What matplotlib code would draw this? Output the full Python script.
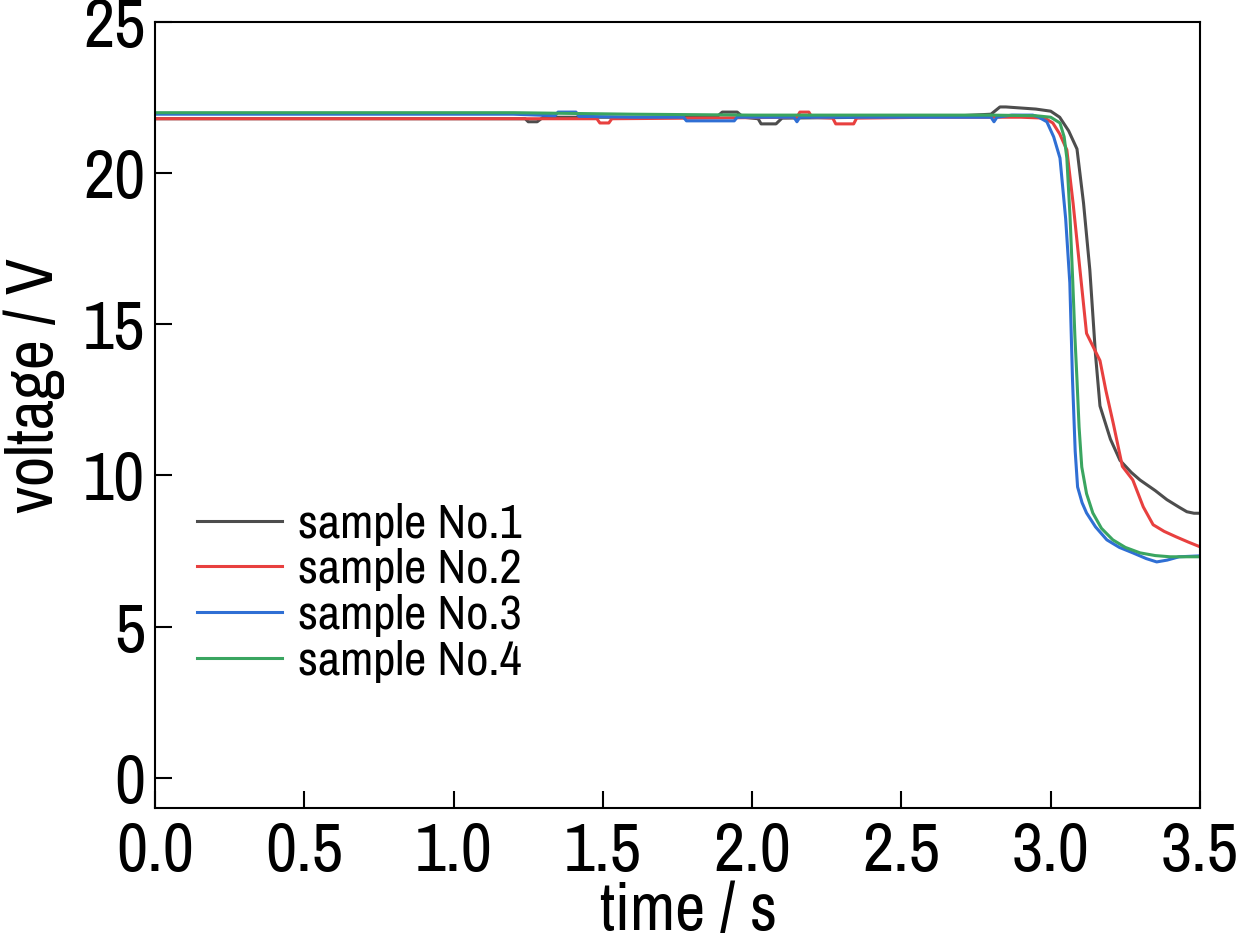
import matplotlib
matplotlib.use("Agg")
import matplotlib.pyplot as plt
from matplotlib import font_manager
from matplotlib.font_manager import FontProperties
from matplotlib.textpath import TextPath

# data (time / s, voltage / V)
t1 = [0.0, 1.20, 1.24, 1.25, 1.28, 1.30, 1.60, 1.88, 1.90, 1.95, 1.97, 2.02, 2.03, 2.08, 2.10,
      2.40, 2.70, 2.80, 2.83, 2.85, 2.95, 3.00, 3.03, 3.06, 3.088, 3.11, 3.131, 3.15, 3.165,
      3.20, 3.232, 3.27, 3.299, 3.35, 3.389, 3.43, 3.456, 3.48, 3.50]
v1 = [21.80, 21.80, 21.80, 21.70, 21.70, 21.85, 21.85, 21.85, 22.02, 22.02, 21.85, 21.80, 21.63,
      21.63, 21.82, 21.85, 21.90, 21.95, 22.19, 22.19, 22.12, 22.05, 21.85, 21.40, 20.80, 19.0,
      16.80, 14.00, 12.30, 11.20, 10.50, 10.10, 9.85, 9.50, 9.20, 8.95, 8.80, 8.75, 8.75]

t2 = [0.0, 1.20, 1.48, 1.49, 1.52, 1.53, 1.80, 2.15, 2.16, 2.19, 2.20, 2.27, 2.28, 2.34, 2.35,
      2.60, 2.90, 2.98, 3.007, 3.03, 3.054, 3.075, 3.098, 3.12, 3.14, 3.165, 3.185, 3.21, 3.24,
      3.275, 3.31, 3.343, 3.38, 3.42, 3.46, 3.50]
v2 = [21.80, 21.80, 21.80, 21.66, 21.66, 21.80, 21.82, 21.85, 22.02, 22.02, 21.85, 21.82, 21.63,
      21.63, 21.82, 21.85, 21.85, 21.82, 21.66, 21.30, 20.77, 19.00, 16.80, 14.70, 14.30, 13.80,
      12.80, 11.70, 10.30, 9.85, 8.96, 8.37, 8.15, 7.97, 7.80, 7.64]

t3 = [0.0, 1.20, 1.34, 1.35, 1.41, 1.42, 1.60, 1.77, 1.78, 1.94, 1.95, 2.14, 2.15, 2.16, 2.40,
      2.80, 2.81, 2.82, 2.87, 2.94, 2.96, 2.987, 3.01, 3.031, 3.05, 3.064, 3.073, 3.082, 3.09,
      3.105, 3.12, 3.15, 3.188, 3.23, 3.275, 3.32, 3.355, 3.39, 3.43, 3.50]
v3 = [21.95, 21.95, 21.90, 22.02, 22.02, 21.88, 21.85, 21.85, 21.73, 21.73, 21.85, 21.85, 21.70,
      21.85, 21.85, 21.85, 21.70, 21.85, 21.92, 21.92, 21.85, 21.70, 21.20, 20.50, 18.50, 16.37,
      13.16, 10.80, 9.62, 9.10, 8.76, 8.30, 7.87, 7.62, 7.44, 7.25, 7.14, 7.20, 7.31, 7.34]

t4 = [0.0, 1.20, 1.60, 2.00, 2.40, 2.80, 2.95, 3.00, 3.031, 3.045, 3.054, 3.065, 3.074, 3.081,
      3.088, 3.095, 3.104, 3.12, 3.141, 3.17, 3.208, 3.25, 3.299, 3.35, 3.40, 3.50]
v4 = [22.00, 22.00, 21.95, 21.92, 21.92, 21.92, 21.90, 21.85, 21.66, 21.20, 20.50, 18.50, 16.37,
      14.60, 13.16, 11.60, 10.28, 9.40, 8.76, 8.25, 7.87, 7.62, 7.44, 7.35, 7.31, 7.31]

labels = ['sample No.1', 'sample No.2', 'sample No.3', 'sample No.4']
colors = ['#4d4d4d', '#e8403f', '#2f6fd4', '#3aa560']
xticks = [0.0, 0.5, 1.0, 1.5, 2.0, 2.5, 3.0, 3.5]
yticks = [0, 5, 10, 15, 20, 25]

# a narrow sans like the original, if there is one
names = set(f.name for f in font_manager.fontManager.ttflist)
prefs = ['Liberation Sans Narrow', 'Arial Narrow', 'Archivo Narrow', 'PT Sans Narrow',
         'Roboto Condensed', 'Pragati Narrow', 'IBM Plex Sans Condensed', 'Fira Sans Condensed',
         'Sofia Sans Semi Condensed', 'Liberation Sans']
fam = next((p for p in prefs if p in names), 'DejaVu Sans')
plt.rcParams['font.family'] = [fam, 'DejaVu Sans']

DPI = 100
fp = FontProperties(family=fam)

def fsize(s, w_px, ch, h_px):
    # font size (pt) from target width of s and target height of glyph ch
    w = TextPath((0, 0), s, size=100, prop=fp).get_extents().width
    h = TextPath((0, 0), ch, size=100, prop=fp).get_extents().height
    fw = w_px / (w / 100.0) * 72.0 / DPI
    fh = h_px / (h / 100.0) * 72.0 / DPI
    return fw ** 0.65 * fh ** 0.35

tick_fs = fsize('0.0', 72, '0', 49)
lab_fs = fsize('voltage / V', 258, 'V', 44)
leg_fs = fsize('sample No.1', 227, 'N', 32)
leg_em = leg_fs * DPI / 72.0

fig = plt.figure(figsize=(12.41, 9.43), dpi=DPI)
ax = fig.add_axes([155 / 1241, 1 - 808 / 943, 1045 / 1241, 786 / 943])

for t, v, c, l in zip([t1, t2, t3, t4], [v1, v2, v3, v4], colors, labels):
    ax.plot(t, v, color=c, lw=2.2, label=l)

ax.set_xlim(0, 3.5)
ax.set_ylim(-1, 25)
ax.set_xticks(xticks)
ax.set_xticklabels(['%.1f' % x for x in xticks])
ax.set_yticks(yticks)
ax.tick_params(direction='in', length=12, width=1.5, labelsize=tick_fs)
ax.tick_params(axis='x', pad=9)
ax.tick_params(axis='y', pad=7)
for s in ax.spines.values():
    s.set_linewidth(1.5)

ax.set_xlabel('time / s', fontsize=lab_fs)
ax.set_ylabel('voltage / V', fontsize=lab_fs)
ax.xaxis.set_label_coords(0.511, -0.094)
ax.yaxis.set_label_coords(-0.086, 0.538)

ax.legend(loc='upper left', bbox_to_anchor=(42 / 1045, (808 - 527 + 0.5 * leg_em) / 786),
          frameon=False, fontsize=leg_fs, borderpad=0, borderaxespad=0,
          handlelength=85 / leg_em, handletextpad=16 / leg_em,
          labelspacing=max(51.5 / leg_em - 1.0, 0.0))

plt.savefig('out.png', dpi=DPI)
